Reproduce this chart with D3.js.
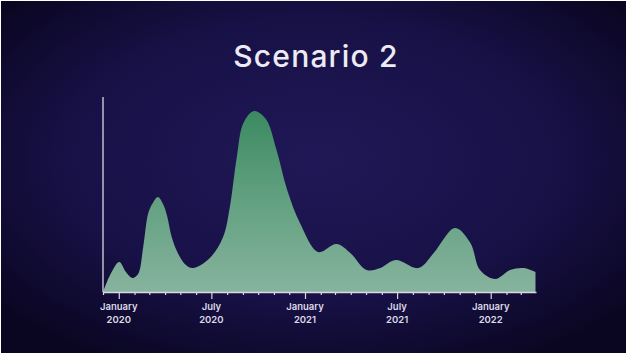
<!DOCTYPE html>
<html>
<head>
<script src='https://d3js.org/d3.v7.min.js'></script>
<style>
body {margin:0; background-color:#ffffff;}
svg {display:block;}
</style>
</head>
<body>
<svg></svg>
<script>
var width = 628
var height = 355

// curve readings: date of each point and height of the curve
var dates = ['2019-12-01','2019-12-15','2020-01-02','2020-01-15','2020-01-28','2020-02-08','2020-02-18',
  '2020-02-28','2020-03-08','2020-03-18','2020-03-28','2020-04-05','2020-04-14','2020-04-27','2020-05-12',
  '2020-05-26','2020-06-28','2020-07-24','2020-08-06','2020-08-20','2020-09-02','2020-09-23','2020-10-16',
  '2020-11-06','2020-11-27','2020-12-22','2021-01-27','2021-03-04','2021-03-31','2021-05-02','2021-05-29',
  '2021-06-28','2021-08-12','2021-09-11','2021-10-23','2021-11-22','2021-12-11','2022-01-10','2022-02-08',
  '2022-03-07','2022-03-30']
var values = [0,17,30,20,14,18,45,79,89,95,88,76,55,38,27,24,34,55,84,135,169,181,173,142,102,69,
  40,48,39,22,24,32,24,39,64,49,22,13,22,24,20]

var startDate = '2019-12-01'
var endDate = '2022-03-31'

var parse = d3.timeParse('%Y-%m-%d')
var data = dates.map(function(d,i) {return {date:parse(d), value:values[i]};})

var svg = d3.select('svg').attr('width',width).attr('height',height)

var defs = svg.append('defs')
var bg = defs.append('radialGradient').attr('id','bg')
   .attr('cx','50%').attr('cy','45%').attr('r','65%')
bg.append('stop').attr('offset','0%').attr('stop-color','#201856')
bg.append('stop').attr('offset','60%').attr('stop-color','#181147')
bg.append('stop').attr('offset','100%').attr('stop-color','#0a0622')

//set axes
var x = d3.scaleTime().domain([parse(startDate),parse(endDate)]).range([103,536])
var y = d3.scaleLinear().domain([0,195]).range([292,97])

var fill = defs.append('linearGradient').attr('id','fill')
   .attr('gradientUnits','userSpaceOnUse')
   .attr('x1',0).attr('x2',0).attr('y1',y(181)).attr('y2',y(0))
fill.append('stop').attr('offset','0%').attr('stop-color','#3b8a62')
fill.append('stop').attr('offset','45%').attr('stop-color','#5f9f7e')
fill.append('stop').attr('offset','100%').attr('stop-color','#87b39e')

svg.append('rect')
   .attr('x',1).attr('y',1)
   .attr('width',625).attr('height',352)
   .attr('fill','url(#bg)')

//title
svg.append('text')
   .attr('x',316).attr('y',67)
   .attr('text-anchor','middle')
   .attr('font-family','Inter')
   .attr('font-weight',500)
   .attr('font-size',30)
   .attr('letter-spacing',1.2)
   .attr('fill','#ecebf3')
   .text('Scenario 2')

//area
var area = d3.area()
   .x(function(d) {return x(d.date);})
   .y0(y(0))
   .y1(function(d) {return y(d.value);})
   .curve(d3.curveCatmullRom.alpha(0.5))

svg.append('path')
   .datum(data)
   .attr('d',area)
   .attr('fill','url(#fill)')

//y axis line
svg.append('line')
   .attr('x1',x.range()[0]).attr('x2',x.range()[0])
   .attr('y1',y.range()[1]).attr('y2',y(0))
   .attr('stroke','#d9d7e2').attr('stroke-width',1.3)

//x axis with monthly ticks
var months = d3.timeMonth.range(parse(startDate),d3.timeDay.offset(parse(endDate),1))
var xAxis = svg.append('g')
   .attr('transform','translate(0,'+y(0)+')')
   .call(d3.axisBottom(x).tickValues(months).tickSize(3).tickSizeOuter(0).tickFormat(''))
xAxis.select('.domain').attr('stroke','#d9d7e2').attr('stroke-width',1.5)
xAxis.selectAll('.tick line')
   .attr('stroke','#d9d7e2').attr('stroke-width',1.2)
   .attr('y2',function(d) {return (d.getMonth()%6==0) ? 7 : 3;})

var labelled = months.filter(function(d) {return d.getMonth()%6==0;})
var fmtMonth = d3.timeFormat('%B')
var fmtYear = d3.timeFormat('%Y')
var labels = svg.append('g').selectAll('text')
   .data(labelled).enter().append('text')
   .attr('text-anchor','middle')
   .attr('font-family','Inter')
   .attr('font-weight',600)
   .attr('font-size',9.5)
   .attr('fill','#dcdae6')
labels.append('tspan')
   .attr('x',function(d) {return x(d);}).attr('y',310)
   .text(function(d) {return fmtMonth(d);})
labels.append('tspan')
   .attr('x',function(d) {return x(d);}).attr('y',322.5)
   .text(function(d) {return fmtYear(d);})
</script>
</body>
</html>
